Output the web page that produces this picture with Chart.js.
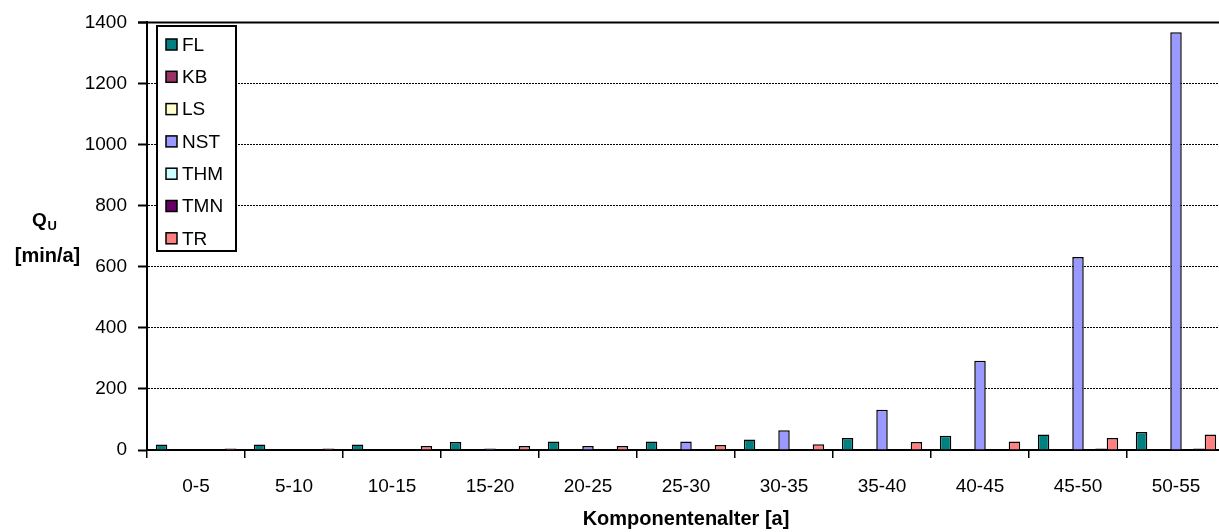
<!DOCTYPE html>
<html>
<head>
<meta charset="utf-8">
<script src="https://cdn.jsdelivr.net/npm/chart.js@4/dist/chart.umd.min.js"></script>
<style>
  html, body { margin: 0; padding: 0; background: #fff; overflow: hidden; }
  #wrap { width: 1226px; height: 532px; }
</style>
</head>
<body>
<div id="wrap"><canvas id="chart" width="1226" height="532"></canvas></div>
<script>
const categories = ['0-5', '5-10', '10-15', '15-20', '20-25', '25-30', '30-35', '35-40', '40-45', '45-50', '50-55'];
const seriesNames = ['FL', 'KB', 'LS', 'NST', 'THM', 'TMN', 'TR'];
const seriesColors = ['#008080', '#993366', '#FFFFCC', '#9999FF', '#CCFFFF', '#660066', '#FF8080'];

const flValues = [18, 18, 18, 26, 28, 28, 34, 39, 47, 51, 59];
const kbValues = [0, 0, 0, 0, 0, 0, 0, 0, 0, 0, 0];
const lsValues = [0, 0, 0, 0, 0, 0, 0, 0, 0, 0, 0];
const nstValues = [0, 0, 0, 5, 13, 28, 65, 132, 292, 632, 1368];
const thmValues = [0, 0, 0, 0, 0, 0, 0, 0, 0, 0, 0];
const tmnValues = [0, 0, 0, 0, 0, 0, 0, 0, 0, 5, 5];
const trValues = [5, 5, 13, 13, 13, 16, 19, 26, 28, 39, 51];

const yTicks = [0, 200, 400, 600, 800, 1000, 1200, 1400];

const FONT = '"Liberation Sans", Arial, sans-serif';
const allValues = [flValues, kbValues, lsValues, nstValues, thmValues, tmnValues, trValues];

// legend box + axis titles drawn on the canvas
const extras = {
  id: 'extras',
  afterDraw(chart) {
    const c = chart.ctx;
    const area = chart.chartArea;
    c.save();

    // solid top line at 1400
    c.strokeStyle = '#000';
    c.lineWidth = 2;
    c.beginPath();
    c.moveTo(area.left - 9, area.top);
    c.lineTo(area.right, area.top);
    c.stroke();

    // legend
    c.fillStyle = '#fff';
    c.fillRect(157, 26, 79, 225);
    c.lineWidth = 2;
    c.strokeRect(157, 26, 79, 225);
    c.font = '19px ' + FONT;
    c.textBaseline = 'middle';
    c.textAlign = 'left';
    seriesNames.forEach((name, i) => {
      const y = 44.5 + i * 32.3;
      c.fillStyle = seriesColors[i];
      c.fillRect(166, y - 5.5, 11, 11);
      c.lineWidth = 1.5;
      c.strokeStyle = '#000';
      c.strokeRect(166, y - 5.5, 11, 11);
      c.fillStyle = '#000';
      c.fillText(name, 182, y + 1);
    });

    // y title
    c.fillStyle = '#000';
    c.font = 'bold 19px ' + FONT;
    c.textAlign = 'left';
    c.fillText('Q', 32, 221);
    c.font = 'bold 13px ' + FONT;
    c.fillText('U', 47.5, 226);
    c.font = 'bold 20px ' + FONT;
    c.textAlign = 'center';
    c.fillText('[min/a]', 47.5, 256);

    // x title
    c.fillText('Komponentenalter [a]', (area.left + area.right) / 2, 519);
    c.restore();
  }
};

const ctx = document.getElementById('chart').getContext('2d');
const chart = new Chart(ctx, {
  type: 'bar',
  data: {
    labels: categories,
    datasets: seriesNames.map((name, i) => ({
      label: name,
      data: allValues[i],
      backgroundColor: seriesColors[i],
      borderColor: '#000',
      borderWidth: 1.5,
      barPercentage: 1,
      categoryPercentage: 0.82,
    })),
  },
  options: {
    responsive: false,
    animation: false,
    devicePixelRatio: 1,
    layout: { padding: { top: 16, right: 1, left: 0, bottom: 0 } },
    plugins: { legend: { display: false }, tooltip: { enabled: false } },
    scales: {
      x: {
        afterFit(scale) { scale.height = 82; },
        grid: {
          offset: true,
          drawOnChartArea: false,
          tickLength: 8,
          lineWidth: 1.5,
          color: '#000',
        },
        border: { color: '#000', width: 2 },
        ticks: {
          color: '#000',
          padding: 17,
          maxRotation: 0,
          font: { family: FONT, size: 19 },
        },
      },
      y: {
        min: 0,
        max: 1400,
        afterFit(scale) { scale.width = 147; },
        afterBuildTicks(scale) { scale.ticks = yTicks.map(v => ({ value: v })); },
        grid: {
          color: '#000',
          lineWidth: 1,
          tickLength: 9,
          tickWidth: 2,
          tickColor: '#000',
          tickBorderDash: [],
        },
        border: { color: '#000', width: 2, dash: [2, 1] },
        ticks: {
          color: '#000',
          padding: 11,
          font: { family: FONT, size: 19 },
          callback: v => String(v),
        },
      },
    },
  },
  plugins: [extras],
});
</script>
</body>
</html>
